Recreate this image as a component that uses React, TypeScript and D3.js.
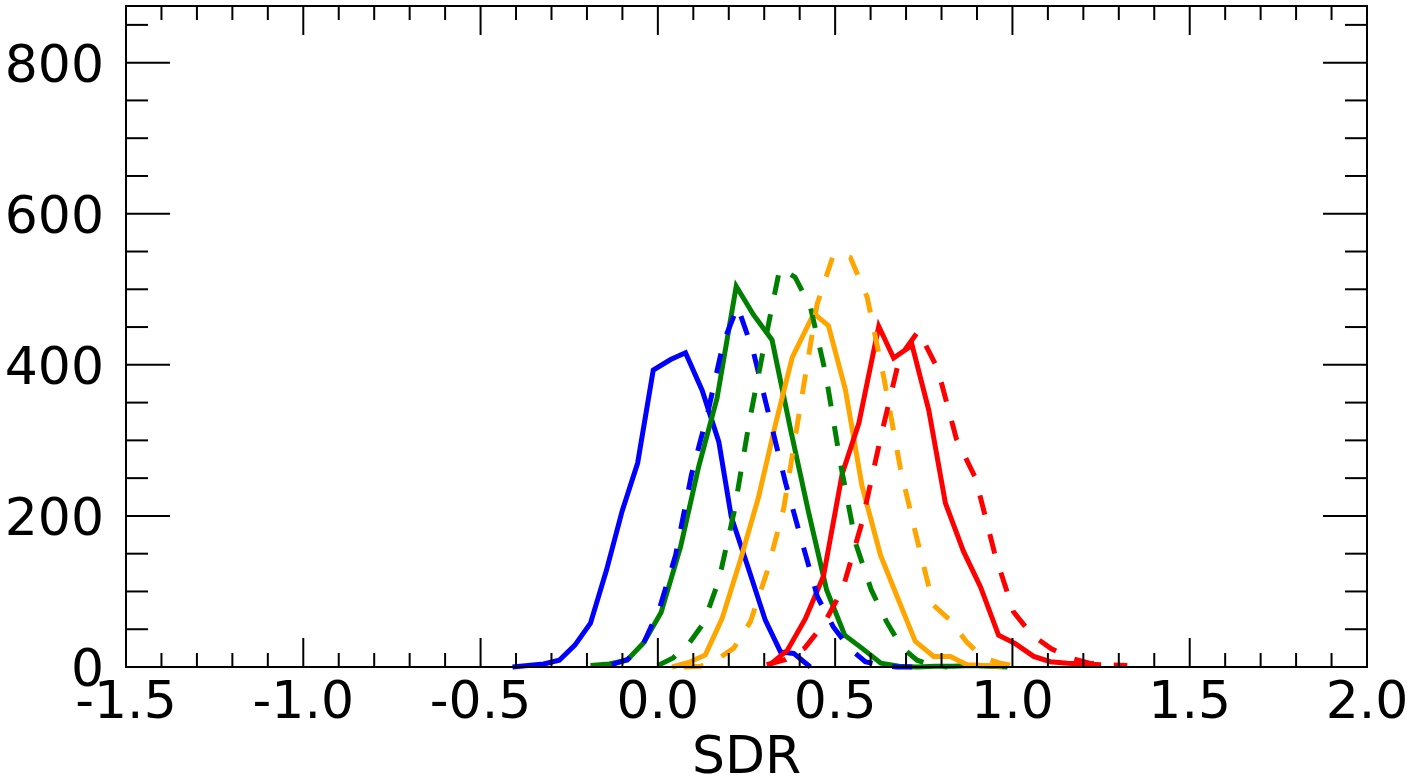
import React from "react";
import * as d3 from "d3";

// ---- data ----
const blueSolidX = [-0.41, -0.366, -0.322, -0.278, -0.234, -0.19, -0.145, -0.101, -0.057, -0.013, 0.036, 0.078, 0.125, 0.172, 0.207, 0.255, 0.303, 0.346, 0.383, 0.43];
const blueSolidY = [0, 2, 4, 9, 29, 58, 128, 206, 270, 393, 407, 416, 366, 298, 199, 131, 62, 20, 18, 0];

const greenSolidX = [-0.19, -0.137, -0.087, -0.04, 0.009, 0.064, 0.115, 0.167, 0.221, 0.27, 0.322, 0.374, 0.425, 0.476, 0.527, 0.578, 0.629, 0.68, 0.731, 0.782, 0.833, 0.884, 0.935, 0.986];
const greenSolidY = [2, 4, 9, 32, 72, 159, 265, 356, 504, 466, 433, 315, 205, 102, 42, 24, 5, 1, 0, 1, 1, 2, 1, 0];

const orangeSolidX = [0.04, 0.087, 0.134, 0.181, 0.233, 0.284, 0.33, 0.379, 0.44, 0.481, 0.529, 0.576, 0.628, 0.675, 0.726, 0.778, 0.825, 0.872, 0.92, 0.97];
const orangeSolidY = [0, 6, 16, 64, 142, 225, 318, 410, 468, 452, 367, 239, 148, 93, 34, 14, 14, 3, 2, 1];

const redSolidX = [0.316, 0.365, 0.416, 0.467, 0.52, 0.567, 0.623, 0.665, 0.717, 0.764, 0.811, 0.862, 0.91, 0.961, 1.008, 1.06, 1.107, 1.155, 1.2, 1.25];
const redSolidY = [3, 22, 64, 120, 256, 323, 451, 409, 426, 340, 217, 153, 106, 42, 31, 14, 7, 5, 4, 3];

const blueDashedX = [-0.13, -0.085, -0.04, 0.005, 0.05, 0.095, 0.14, 0.185, 0.225, 0.27, 0.315, 0.36, 0.405, 0.45, 0.495, 0.54, 0.585, 0.63, 0.675, 0.72];
const blueDashedY = [3, 10, 32, 78, 148, 255, 335, 430, 477, 416, 330, 244, 168, 93, 53, 25, 7, 2, 0, 0];

const greenDashedX = [0.0, 0.043, 0.086, 0.129, 0.172, 0.215, 0.258, 0.301, 0.344, 0.387, 0.43, 0.473, 0.516, 0.559, 0.602, 0.645, 0.688, 0.731, 0.774, 0.817];
const greenDashedY = [2, 12, 30, 58, 115, 205, 325, 428, 528, 516, 477, 389, 267, 162, 102, 60, 26, 9, 2, 0];

const orangeDashedX = [0.073, 0.12, 0.167, 0.214, 0.261, 0.308, 0.355, 0.402, 0.449, 0.496, 0.543, 0.59, 0.637, 0.684, 0.73, 0.777, 0.824, 0.871, 0.918, 0.965, 1.012];
const orangeDashedY = [0, 1, 10, 25, 60, 126, 210, 346, 480, 547, 542, 490, 384, 263, 171, 82, 62, 33, 12, 5, 1];

const redDashedX = [0.307, 0.361, 0.414, 0.468, 0.521, 0.575, 0.628, 0.682, 0.735, 0.789, 0.842, 0.896, 0.949, 1.003, 1.056, 1.11, 1.163, 1.217, 1.27, 1.324];
const redDashedY = [3, 10, 25, 57, 103, 190, 303, 410, 445, 395, 302, 250, 152, 73, 42, 24, 12, 5, 3, 2];

const xMajorTicks = [-1.5, -1.0, -0.5, 0.0, 0.5, 1.0, 1.5, 2.0];
const xTickLabels = ["-1.5", "-1.0", "-0.5", "0.0", "0.5", "1.0", "1.5", "2.0"];
const yMajorTicks = [0, 200, 400, 600, 800];
const yTickLabels = ["0", "200", "400", "600", "800"];
const xTitle = "SDR";

const series = [
  { x: blueSolidX, y: blueSolidY, color: "#0000ff", dashed: false },
  { x: greenSolidX, y: greenSolidY, color: "#008000", dashed: false },
  { x: orangeSolidX, y: orangeSolidY, color: "#ffa500", dashed: false },
  { x: redSolidX, y: redSolidY, color: "#ff0000", dashed: false },
  { x: blueDashedX, y: blueDashedY, color: "#0000ff", dashed: true },
  { x: greenDashedX, y: greenDashedY, color: "#008000", dashed: true },
  { x: orangeDashedX, y: orangeDashedY, color: "#ffa500", dashed: true },
  { x: redDashedX, y: redDashedY, color: "#ff0000", dashed: true },
];

export default function App() {
  const W = 1409, H = 781;
  const L = 126, R = 1367, T = 6, B = 667;
  const x = d3.scaleLinear().domain([-1.5, 2.0]).range([L, R]);
  const y = d3.scaleLinear().domain([0, 875]).range([B, T]);
  const font = "'DejaVu Sans', sans-serif";
  const fs = 52;

  const xMinor = d3.range(-15, 21).map((i) => i / 10).filter((v) => !xMajorTicks.some((m) => Math.abs(m - v) < 1e-9));
  const yMinor = d3.range(0, 876, 50).filter((v) => v % 200 !== 0);

  const line = d3
    .line<[number, number]>()
    .x((d) => x(d[0]))
    .y((d) => y(d[1]));

  return (
    <svg width={W} height={H} style={{ position: "absolute", left: 0, top: 0, background: "#fff" }}>
      <rect x={0} y={0} width={W} height={H} fill="#fff" />
      <g fill="none">
        {series.map((s, i) => (
          <path
            key={i}
            d={line(s.x.map((v, j) => [v, s.y[j]] as [number, number])) || ""}
            stroke={s.color}
            strokeWidth={5}
            strokeDasharray={s.dashed ? "20 20" : undefined}
            strokeLinejoin="miter"
          />
        ))}
      </g>
      <g stroke="#000" strokeWidth={2}>
        <rect x={L} y={T} width={R - L} height={B - T} fill="none" />
        {xMajorTicks.map((v) => (
          <g key={"xm" + v}>
            <line x1={x(v)} x2={x(v)} y1={B} y2={B - 29} />
            <line x1={x(v)} x2={x(v)} y1={T} y2={T + 29} />
          </g>
        ))}
        {xMinor.map((v) => (
          <g key={"xn" + v}>
            <line x1={x(v)} x2={x(v)} y1={B} y2={B - 14} />
            <line x1={x(v)} x2={x(v)} y1={T} y2={T + 14} />
          </g>
        ))}
        {yMajorTicks.map((v) => (
          <g key={"ym" + v}>
            <line x1={L} x2={L + 44} y1={y(v)} y2={y(v)} />
            <line x1={R} x2={R - 44} y1={y(v)} y2={y(v)} />
          </g>
        ))}
        {yMinor.map((v) => (
          <g key={"yn" + v}>
            <line x1={L} x2={L + 22} y1={y(v)} y2={y(v)} />
            <line x1={R} x2={R - 22} y1={y(v)} y2={y(v)} />
          </g>
        ))}
      </g>
      <g fontFamily={font} fontSize={fs} fill="#000">
        {xMajorTicks.map((v, i) => (
          <text key={"xl" + v} x={x(v)} y={B + 51} textAnchor="middle">
            {xTickLabels[i]}
          </text>
        ))}
        {yMajorTicks.map((v, i) => (
          <text key={"yl" + v} x={104} y={y(v) + 19} textAnchor="end">
            {yTickLabels[i]}
          </text>
        ))}
        <text x={(L + R) / 2} y={773} textAnchor="middle">
          {xTitle}
        </text>
      </g>
    </svg>
  );
}
